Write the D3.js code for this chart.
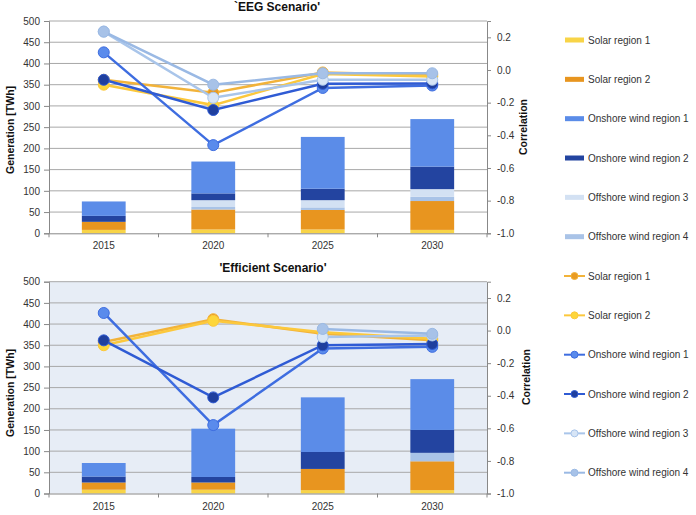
<!DOCTYPE html>
<html>
<head>
<meta charset="utf-8">
<script src="https://cdn.jsdelivr.net/npm/d3@7"></script>
<style>
  body { margin: 0; background: #fff; }
  svg { font-family: "Liberation Sans", Arial, sans-serif; }
  .tick text { fill: #333; font-size: 10px; }
</style>
</head>
<body>
<div id="chart"></div>
<script>
// categories
const years = ["2015", "2020", "2025", "2030"];

// generation [TWh], 'EEG Scenario'
const eegSolar1 = [8, 9, 9, 8];
const eegSolar2 = [19, 47, 46, 68];
const eegOnshore1 = [34, 75, 122, 112];
const eegOnshore2 = [14, 16, 27, 53];
const eegOffshore3 = [0, 16, 17, 18];
const eegOffshore4 = [0, 6, 6, 10];

// generation [TWh], 'Efficient Scenario'
const effSolar1 = [9, 9, 8, 8];
const effSolar2 = [17, 17, 50, 68];
const effOnshore1 = [32, 114, 129, 120];
const effOnshore2 = [14, 13, 40, 54];
const effOffshore3 = [0, 0, 0, 0];
const effOffshore4 = [0, 0, 0, 20];

// correlation, 'EEG Scenario'
const eegCorrSolar1 = [-0.06, -0.14, -0.015, -0.03];
const eegCorrSolar2 = [-0.09, -0.215, -0.025, -0.04];
const eegCorrOnshore1 = [0.108, -0.46, -0.11, -0.095];
const eegCorrOnshore2 = [-0.06, -0.245, -0.085, -0.082];
const eegCorrOffshore3 = [0.235, -0.17, -0.06, -0.06];
const eegCorrOffshore4 = [0.235, -0.09, -0.02, -0.02];

// correlation, 'Efficient Scenario'
const effCorrSolar1 = [-0.07, 0.07, -0.02, -0.06];
const effCorrSolar2 = [-0.09, 0.06, -0.01, -0.05];
const effCorrOnshore1 = [0.108, -0.58, -0.11, -0.1];
const effCorrOnshore2 = [-0.06, -0.41, -0.09, -0.082];
const effCorrOffshore3 = [null, null, -0.04, -0.03];
const effCorrOffshore4 = [null, null, 0.01, -0.02];

// axis ticks
const genTicks = [0, 50, 100, 150, 200, 250, 300, 350, 400, 450, 500];
const corrTicks = [-1.0, -0.8, -0.6, -0.4, -0.2, 0.0, 0.2];

const seriesNames = ["Solar region 1", "Solar region 2", "Onshore wind region 1",
    "Onshore wind region 2", "Offshore wind region 3", "Offshore wind region 4"];
const barColors = ["#f8d447", "#e8951f", "#5b8ce8", "#2344a0", "#d3e1f3", "#a9c3e7"];
const lineColors = ["#f2b33a", "#fcc83c", "#3e6de0", "#2f5bd4", "#a9c5ea", "#9ab9e4"];
const markerColors = ["#e99b22", "#fdd63a", "#5a8bec", "#1f3f9e", "#d7e5f6", "#a7c2e8"];

const svg = d3.select("#chart").append("svg")
    .attr("width", 696)
    .attr("height", 515);

const left = 49, right = 487;

const drawPanel = (opts) => {
    const { top, bottom, title, titleX, bg, gen, corr, genLabelY, corrLabelX, corrLabelY, tickY } = opts;

    const x = d3.scaleBand().domain(years).range([left, right]).padding(0);
    const yL = d3.scaleLinear().domain([0, 500]).range([bottom, top]);
    const yR = d3.scaleLinear().domain([-1, 0.3]).range([bottom, top]);

    const g = svg.append("g");

    g.append("rect")
        .attr("x", left).attr("y", top)
        .attr("width", right - left).attr("height", bottom - top)
        .attr("fill", bg);

    // gridlines
    g.append("g").selectAll("line").data(genTicks.slice(1)).enter().append("line")
        .attr("x1", left).attr("x2", right)
        .attr("y1", d => yL(d)).attr("y2", d => yL(d))
        .attr("stroke", "#a8a8a8").attr("stroke-width", 1);

    // stacked bars: solar1, solar2, offshore4, offshore3, onshore2, onshore1 from bottom
    const rows = years.map((yr, i) => ({
        year: yr,
        s0: gen[0][i], s1: gen[1][i], s5: gen[5][i], s4: gen[4][i], s3: gen[3][i], s2: gen[2][i]
    }));
    const keys = ["s0", "s1", "s5", "s4", "s3", "s2"];
    const colorOf = { s0: barColors[0], s1: barColors[1], s2: barColors[2], s3: barColors[3], s4: barColors[4], s5: barColors[5] };
    const stacked = d3.stack().keys(keys)(rows);
    const bw = x.bandwidth() * 0.4;

    g.append("g").selectAll("g").data(stacked).enter().append("g")
        .attr("fill", d => colorOf[d.key])
        .selectAll("rect").data(d => d).enter().append("rect")
        .attr("x", d => x(d.data.year) + (x.bandwidth() - bw) / 2)
        .attr("width", bw)
        .attr("y", d => yL(d[1]))
        .attr("height", d => yL(d[0]) - yL(d[1]));

    // axes
    const axL = g.append("g").attr("transform", `translate(${left},0)`)
        .call(d3.axisLeft(yL).tickValues(genTicks).tickSize(5).tickPadding(4));
    axL.select(".domain").attr("stroke", "#888");
    axL.selectAll(".tick line").attr("stroke", "#888");

    const axR = g.append("g").attr("transform", `translate(${right},0)`)
        .call(d3.axisRight(yR).tickValues(corrTicks).tickSize(4).tickPadding(6)
            .tickFormat(d => d.toFixed(1)));
    axR.select(".domain").attr("stroke", "#888");
    axR.selectAll(".tick line").attr("stroke", "#888");

    const axB = g.append("g").attr("transform", `translate(0,${bottom})`)
        .call(d3.axisBottom(x).tickSize(0).tickPadding(tickY));
    axB.select(".domain").attr("stroke", "#888");
    axB.selectAll(".tick text").attr("font-size", "10px");
    g.append("g").selectAll("line").data(years.map(d => x(d)).concat([right]))
        .enter().append("line")
        .attr("x1", d => d).attr("x2", d => d)
        .attr("y1", bottom).attr("y2", bottom + 4)
        .attr("stroke", "#888");

    // correlation lines
    corr.forEach((vals, k) => {
        const pts = years.map((yr, i) => ({ year: yr, v: vals[i] }));
        const line = d3.line()
            .defined(d => d.v !== null)
            .x(d => x(d.year) + x.bandwidth() / 2)
            .y(d => yR(d.v));
        g.append("path")
            .datum(pts)
            .attr("fill", "none")
            .attr("stroke", lineColors[k])
            .attr("stroke-width", 2.5)
            .attr("d", line);
        g.append("g").selectAll("circle").data(pts.filter(d => d.v !== null)).enter()
            .append("circle")
            .attr("cx", d => x(d.year) + x.bandwidth() / 2)
            .attr("cy", d => yR(d.v))
            .attr("r", 5.5)
            .attr("fill", markerColors[k])
            .attr("stroke", lineColors[k])
            .attr("stroke-width", 1);
    });

    // titles
    svg.append("text")
        .attr("x", titleX).attr("y", top - 10)
        .attr("text-anchor", "middle")
        .attr("font-size", "12px").attr("font-weight", "bold").attr("fill", "#111")
        .text(title);

    svg.append("text")
        .attr("transform", `translate(10,${genLabelY}) rotate(-90)`)
        .attr("text-anchor", "middle").attr("dy", "0.35em")
        .attr("font-size", "10.5px").attr("font-weight", "bold").attr("fill", "#111")
        .text("Generation [TWh]");

    svg.append("text")
        .attr("transform", `translate(${corrLabelX},${corrLabelY}) rotate(-90)`)
        .attr("text-anchor", "middle").attr("dy", "0.35em")
        .attr("font-size", "10.5px").attr("font-weight", "bold").attr("fill", "#111")
        .text("Correlation");
};

drawPanel({
    top: 21, bottom: 233.3, title: "`EEG Scenario'", titleX: 277, bg: "#ffffff",
    gen: [eegSolar1, eegSolar2, eegOnshore1, eegOnshore2, eegOffshore3, eegOffshore4],
    corr: [eegCorrSolar1, eegCorrSolar2, eegCorrOnshore1, eegCorrOnshore2, eegCorrOffshore3, eegCorrOffshore4],
    genLabelY: 130, corrLabelX: 523, corrLabelY: 127, tickY: 9
});

drawPanel({
    top: 281.7, bottom: 493.5, title: "'Efficient Scenario'", titleX: 273, bg: "#e7edf6",
    gen: [effSolar1, effSolar2, effOnshore1, effOnshore2, effOffshore3, effOffshore4],
    corr: [effCorrSolar1, effCorrSolar2, effCorrOnshore1, effCorrOnshore2, effCorrOffshore3, effCorrOffshore4],
    genLabelY: 393, corrLabelX: 526, corrLabelY: 377, tickY: 9
});

// legend
const legend = svg.append("g");
const legY = d3.scaleLinear().domain([0, 11]).range([40, 472.7]);

seriesNames.forEach((name, i) => {
    legend.append("rect")
        .attr("x", 565).attr("y", legY(i) - 2.5)
        .attr("width", 19).attr("height", 5)
        .attr("fill", barColors[i]);
    legend.append("text")
        .attr("x", 588).attr("y", legY(i)).attr("dy", "0.35em")
        .attr("font-size", "10px").attr("fill", "#333")
        .text(name);
});

seriesNames.forEach((name, i) => {
    const yy = legY(i + 6);
    legend.append("line")
        .attr("x1", 564).attr("x2", 585).attr("y1", yy).attr("y2", yy)
        .attr("stroke", lineColors[i]).attr("stroke-width", 2);
    legend.append("circle")
        .attr("cx", 574.5).attr("cy", yy).attr("r", 3.5)
        .attr("fill", markerColors[i]).attr("stroke", lineColors[i]).attr("stroke-width", 1);
    legend.append("text")
        .attr("x", 588).attr("y", yy).attr("dy", "0.35em")
        .attr("font-size", "10px").attr("fill", "#333")
        .text(name);
});
</script>
</body>
</html>
